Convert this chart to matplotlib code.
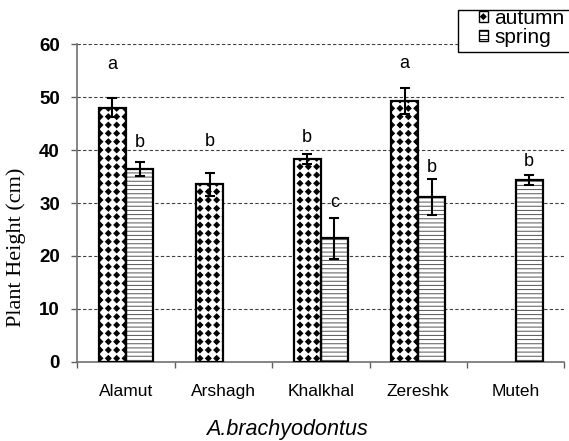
import numpy as np
import matplotlib
matplotlib.use("Agg")
import matplotlib.pyplot as plt
import matplotlib.hatch as mhatch
from matplotlib.path import Path
from matplotlib.patches import Rectangle, Patch

# ---------------- data ----------------
sites = ["Alamut", "Arshagh", "Khalkhal", "Zereshk", "Muteh"]
series_names = ["autumn", "spring"]
autumn = [48.0, 33.5, 38.3, 49.3, np.nan]
autumn_err = [1.8, 2.2, 1.0, 2.4, np.nan]
spring = [36.4, np.nan, 23.3, 31.2, 34.3]
spring_err = [1.3, np.nan, 3.8, 3.4, 0.9]
autumn_letters = ["a", "b", "b", "a", ""]
spring_letters = ["b", "", "c", "b", "b"]
autumn_letter_y = [55.3, 40.8, 41.6, 55.5, np.nan]
spring_letter_y = [40.5, np.nan, 29.3, 35.9, 36.9]
yticks = [0, 10, 20, 30, 40, 50, 60]
ylabel = "Plant Height (cm)"
xlabel = "A.brachyodontus"


# ---------------- custom diamond hatch (replaces 'O') ----------------
class DiamondGrid(mhatch.HatchPatternBase):
    def __init__(self, hatch, density):
        self.num_rows = hatch.count('O') * density * 2
        n = self.num_rows
        self.num_vertices = (n + 1) * (n + 1) * 5 if n else 0

    def set_vertices_and_codes(self, vertices, codes):
        n = self.num_rows
        off = 1.0 / n
        r = off * 0.34
        diamond = np.array([[0, r], [-r, 0], [0, -r], [r, 0], [0, r]])
        dcodes = np.array([Path.MOVETO, Path.LINETO, Path.LINETO,
                           Path.LINETO, Path.CLOSEPOLY], dtype=Path.code_type)
        vparts, cparts = [], []
        for i in range(n + 1):
            for j in range(n + 1):
                vparts.append(diamond + [j * off, i * off])
                cparts.append(dcodes)
        np.concatenate(vparts, out=vertices)
        np.concatenate(cparts, out=codes)


mhatch._hatch_types = [t for t in mhatch._hatch_types
                       if t.__name__ != "LargeCircles"] + [DiamondGrid]

plt.rcParams['font.family'] = ['Liberation Sans', 'DejaVu Sans']
plt.rcParams['hatch.linewidth'] = 0.7

W, H = 569, 441
fig = plt.figure(figsize=(W / 100, H / 100), dpi=100)
L, R, T, B = 77.3, 564.3, 44.3, 361.7
ax = fig.add_axes([L / W, 1 - B / H, (R - L) / W, (B - T) / H])

x = np.arange(len(sites))
w = 0.28
a = np.array(autumn, dtype=float)
ae = np.array(autumn_err, dtype=float)
s = np.array(spring, dtype=float)
se = np.array(spring_err, dtype=float)
ma = ~np.isnan(a)
ms = ~np.isnan(s)

# autumn bars
ax.bar(x[ma] - w / 2, a[ma], w, color="white", edgecolor="black",
       hatch="O", linewidth=0, zorder=2)
ax.bar(x[ma] - w / 2, a[ma], w, fill=False, edgecolor="black",
       linewidth=1.6, zorder=3)
# spring bars
ax.bar(x[ms] + w / 2, s[ms], w, color="white", edgecolor="#555555",
       hatch="----", linewidth=0, zorder=2)
ax.bar(x[ms] + w / 2, s[ms], w, fill=False, edgecolor="black",
       linewidth=1.6, zorder=3)

ax.errorbar(x[ma] - w / 2, a[ma], yerr=ae[ma], fmt="none", ecolor="black",
            elinewidth=1.5, capsize=3.3, capthick=1.5, zorder=4)
ax.errorbar(x[ms] + w / 2, s[ms], yerr=se[ms], fmt="none", ecolor="black",
            elinewidth=1.5, capsize=3.3, capthick=1.5, zorder=4)

for i in range(len(sites)):
    if autumn_letters[i]:
        ax.text(x[i] - w / 2, autumn_letter_y[i], autumn_letters[i],
                ha="center", va="baseline", fontsize=13, zorder=5)
    if spring_letters[i]:
        ax.text(x[i] + w / 2, spring_letter_y[i], spring_letters[i],
                ha="center", va="baseline", fontsize=13, zorder=5)

ax.set_xlim(-0.5, len(sites) - 0.5)
ax.set_ylim(0, 60)
ax.set_yticks(yticks)
ax.set_yticklabels([str(v) for v in yticks], fontweight="bold", fontsize=13.5)
ax.set_xticks(x)
ax.set_xticklabels(sites, fontsize=12.5)
ax.set_xticks(np.arange(len(sites) + 1) - 0.5, minor=True)
ax.tick_params(axis="x", which="major", length=0, pad=16)
ax.tick_params(axis="x", which="minor", length=4.3, width=1.0,
               color="#606060", direction="out")
ax.tick_params(axis="y", length=4, width=1.0, color="#606060",
               direction="out", pad=8.5)

for sp in ["top", "right"]:
    ax.spines[sp].set_visible(False)
for sp in ["left", "bottom"]:
    ax.spines[sp].set_color("#707070")
    ax.spines[sp].set_linewidth(1.2)

ax.yaxis.grid(True, linestyle=(0, (3, 2)), color="#404040", linewidth=0.8)
ax.set_axisbelow(True)

fig.text(16 / W, 1 - 247 / H, ylabel, rotation=90, ha="center",
         va="center", fontsize=16, family="Liberation Serif")
fig.text(287 / W, 5.5 / H, xlabel, ha="center", va="baseline",
         fontsize=15.5, style="italic")

# legend box
fig.add_artist(Rectangle((458.3 / W, 1 - 52 / H), (W + 10 - 458.3) / W,
                         (52 - 10) / H, transform=fig.transFigure,
                         facecolor="white", edgecolor="black",
                         linewidth=1.0, zorder=10))
handles = [Patch(facecolor="white", edgecolor="black", hatch="O", linewidth=1.0),
           Patch(facecolor="white", edgecolor="black", hatch="----", linewidth=1.0)]
leg = fig.legend(handles, series_names, loc="upper left",
                 bbox_to_anchor=(479 / W, 1 - 9 / H), frameon=False,
                 fontsize=15, handlelength=0.42, handleheight=0.42,
                 handletextpad=0.3, labelspacing=0.0, borderpad=0.0,
                 borderaxespad=0.0)
leg.set_zorder(11)

fig.savefig("out.png", dpi=100)
